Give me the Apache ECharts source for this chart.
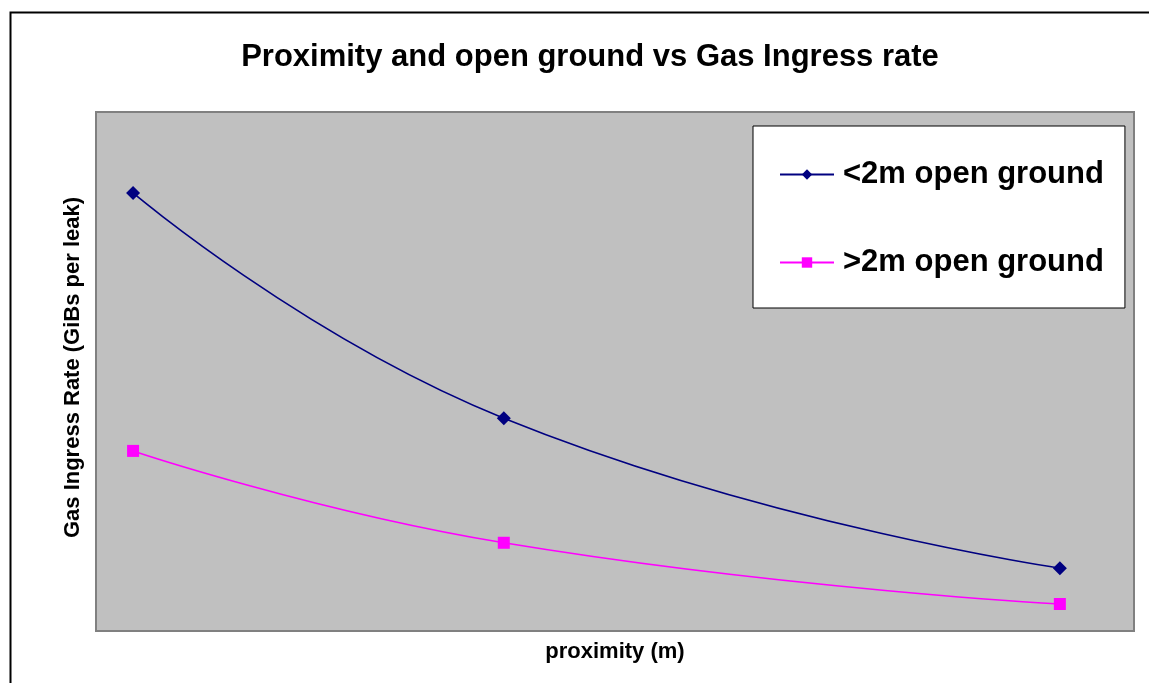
<!DOCTYPE html>
<html>
<head>
<meta charset="utf-8">
<title>Proximity and open ground vs Gas Ingress rate</title>
<script src="https://cdn.jsdelivr.net/npm/echarts@6/dist/echarts.min.js"></script>
<style>
  html, body { margin: 0; padding: 0; background: #ffffff; }
  #chart { width: 1149px; height: 683px; }
</style>
</head>
<body>
<div id="chart"></div>
<script>
// Proximity values along the x axis (no tick labels are shown)
const proximity = [1, 2, 3.5];
// Gas ingress rate for leaks with less than 2 m of open ground
const under2mOpenGround = [84.4, 41.0, 12.1];
// Gas ingress rate for leaks with more than 2 m of open ground
const over2mOpenGround = [34.7, 17.0, 5.2];

const seriesNames = ['<2m open ground', '>2m open ground'];
const titleText = 'Proximity and open ground vs Gas Ingress rate';
const xAxisName = 'proximity (m)';
const yAxisName = 'Gas Ingress Rate (GiBs per leak)';

const FONT = '"Liberation Sans", Arial, sans-serif';

function pairs(xs, ys) {
  return xs.map((x, i) => [x, ys[i]]);
}

const chart = echarts.init(document.getElementById('chart'), null, { renderer: 'canvas' });

chart.setOption({
  backgroundColor: '#ffffff',
  animation: false,
  title: {
    text: titleText,
    left: 585,
    textAlign: 'center',
    top: 37,
    textStyle: { fontFamily: FONT, fontWeight: 'bold', fontSize: 31, color: '#000000' }
  },
  graphic: [
    {
      // outer chart frame, running off the right and bottom edges
      type: 'rect',
      shape: { x: 10.5, y: 12.5, width: 1200, height: 720 },
      style: { fill: 'none', stroke: '#000000', lineWidth: 2 },
      silent: true,
      z: 100
    }
  ],
  grid: {
    left: 96,
    top: 112,
    width: 1038,
    height: 519,
    show: true,
    backgroundColor: '#C0C0C0',
    borderColor: '#808080',
    borderWidth: 2
  },
  legend: {
    orient: 'vertical',
    left: 753,
    top: 126,
    padding: [33, 21, 30, 26],
    itemGap: 57,
    itemWidth: 54,
    itemHeight: 13,
    backgroundColor: '#ffffff',
    borderColor: '#000000',
    borderWidth: 1,
    textStyle: {
      fontFamily: FONT, fontWeight: 'bold', fontSize: 31, color: '#000000',
      lineHeight: 30, padding: [0, 0, 0, 4]
    },
    data: seriesNames
  },
  xAxis: {
    type: 'value',
    min: 0.9,
    max: 3.7,
    name: xAxisName,
    nameLocation: 'middle',
    nameGap: 10,
    nameTextStyle: { fontFamily: FONT, fontWeight: 'bold', fontSize: 22, color: '#000000' },
    axisLine: { show: false },
    axisTick: { show: false },
    axisLabel: { show: false },
    splitLine: { show: false }
  },
  yAxis: {
    type: 'value',
    min: 0,
    max: 100,
    name: yAxisName,
    nameLocation: 'middle',
    nameGap: 12,
    nameTextStyle: {
      fontFamily: FONT, fontWeight: 'bold', fontSize: 22, color: '#000000',
      padding: [0, 0, 0, 8]
    },
    axisLine: { show: false },
    axisTick: { show: false },
    axisLabel: { show: false },
    splitLine: { show: false }
  },
  series: [
    {
      name: seriesNames[0],
      type: 'line',
      smooth: 0.5,
      data: pairs(proximity, under2mOpenGround),
      symbol: 'diamond',
      symbolSize: 14,
      lineStyle: { color: '#000080', width: 1.6 },
      itemStyle: { color: '#000080' }
    },
    {
      name: seriesNames[1],
      type: 'line',
      smooth: 0.5,
      data: pairs(proximity, over2mOpenGround),
      symbol: 'rect',
      symbolSize: 12,
      lineStyle: { color: '#FF00FF', width: 1.6 },
      itemStyle: { color: '#FF00FF' }
    }
  ]
});
</script>
</body>
</html>
